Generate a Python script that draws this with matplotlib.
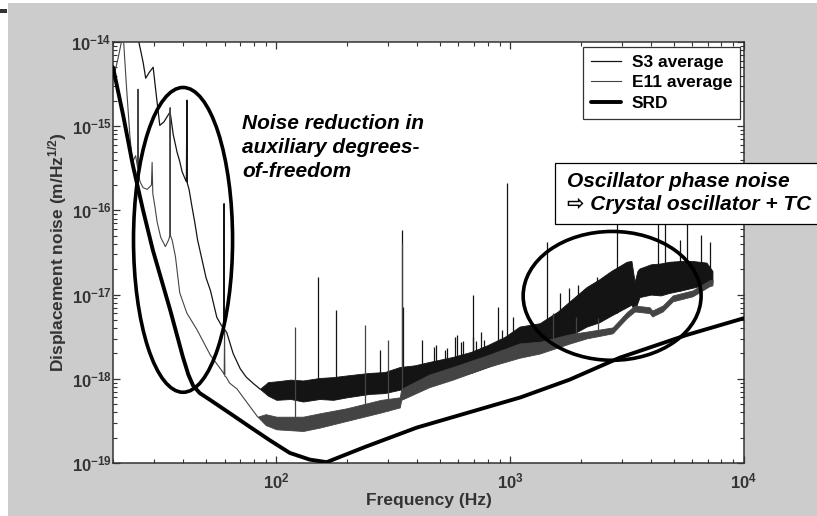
import numpy as np
import matplotlib
matplotlib.use("Agg")
import matplotlib.pyplot as plt
from matplotlib.patches import Ellipse, Rectangle
from matplotlib.ticker import LogLocator, FixedLocator, FuncFormatter, NullFormatter

plt.rcParams['font.family'] = ['Liberation Sans', 'DejaVu Sans']
plt.rcParams['font.weight'] = 'bold'
plt.rcParams['mathtext.fontset'] = 'custom'
plt.rcParams['mathtext.rm'] = 'Liberation Sans:bold'
plt.rcParams['mathtext.bf'] = 'Liberation Sans:bold'
plt.rcParams['mathtext.it'] = 'Liberation Sans:bold:italic'

# ---------------- data (amplitudes given as log10 of m/Hz^1/2) ----------------
# S3 average, low-frequency part (single trace)
s3_low_freq = [24.5, 25.8, 26.9, 27.6, 28.6, 29.7, 30.6, 31.7, 33.0, 35.1, 36.2, 37.6,
               38.6, 39.5, 40.6, 41.2, 41.4, 41.6, 42.3, 43.5, 44.8, 46.0, 48.1, 50.0,
               52.2, 55.6, 58.0, 59.5, 59.7, 59.9, 61.3, 65.3, 70.0, 74.3, 80.0, 85.0]
s3_low_exp = [-13.8, -14.0, -14.24, -14.43, -14.36, -14.30, -14.62, -14.99, -14.95, -14.83,
              -15.10, -15.31, -15.42, -15.54, -15.62, -15.66, -14.69, -15.68, -15.75, -15.95,
              -16.15, -16.35, -16.59, -16.80, -16.95, -17.27, -17.36, -17.40, -15.92, -17.41,
              -17.45, -17.70, -17.88, -17.98, -18.06, -18.12]

# E11 average, low-frequency part
e11_low_freq = [20.0, 21.0, 22.1, 22.8, 23.6, 24.2, 25.0, 25.5, 25.6, 25.7, 26.1, 26.9,
                28.0, 29.2, 29.4, 29.6, 30.2, 30.9, 32.0, 33.5, 34.6, 35.0, 35.1, 35.2,
                35.8, 37.0, 38.6, 41.4, 45.8, 52.2, 59.0, 59.8, 60.0, 60.2, 61.0, 63.0,
                67.8, 74.3, 83.0]
e11_low_exp = [-14.45, -14.2, -13.9, -14.5, -15.1, -15.43, -15.35, -15.5, -14.56, -15.55,
               -15.66, -15.73, -15.75, -15.7, -15.43, -15.8, -15.95, -16.14, -16.32, -16.43,
               -16.35, -16.3, -14.78, -16.3, -16.35, -16.55, -16.98, -17.22, -17.42, -17.72,
               -17.92, -17.95, -17.42, -17.97, -17.98, -18.05, -18.12, -18.27, -18.45]

# S3 average, broadband noise floor (lower / upper envelope)
s3_band_freq = [85, 92, 100, 115, 130, 153, 175, 200, 250, 290, 337, 390, 450, 568, 680,
                800, 950, 1096, 1337, 1600, 1850, 2122, 2400, 2700, 3150, 3300, 3406, 3500,
                3573, 4000, 4400, 4798, 5400, 6000, 6907, 7330]
s3_band_lo = [-18.12, -18.2, -18.25, -18.24, -18.27, -18.24, -18.25, -18.22, -18.18, -18.17,
              -18.13, -18.09, -18.05, -17.98, -17.93, -17.86, -17.78, -17.69, -17.64, -17.55,
              -17.47, -17.38, -17.33, -17.25, -17.15, -17.12, -17.20, -17.10, -17.03, -17.00,
              -17.01, -16.98, -16.95, -16.92, -16.88, -16.86]
s3_band_hi = [-18.12, -18.04, -18.03, -18.01, -18.02, -17.99, -17.98, -17.96, -17.93, -17.92,
              -17.86, -17.84, -17.80, -17.74, -17.68, -17.60, -17.50, -17.38, -17.34, -17.20,
              -17.05, -16.91, -16.82, -16.72, -16.61, -16.60, -16.85, -16.72, -16.69, -16.64,
              -16.63, -16.61, -16.60, -16.60, -16.62, -16.72]

# E11 average, broadband noise floor
e11_band_freq = [83, 90, 100, 130, 153, 200, 280, 337, 342, 450, 568, 800, 1096, 1337, 1800,
                 2122, 2740, 3150, 3406, 3946, 4050, 4490, 4960, 6030, 7120, 7330]
e11_band_lo = [-18.45, -18.55, -18.60, -18.62, -18.58, -18.50, -18.40, -18.34, -18.25, -18.10,
               -18.01, -17.86, -17.75, -17.70, -17.58, -17.52, -17.46, -17.28, -17.20, -17.22,
               -17.26, -17.20, -17.08, -17.02, -16.90, -16.89]
e11_band_hi = [-18.45, -18.42, -18.45, -18.45, -18.41, -18.35, -18.25, -18.22, -18.12, -17.95,
               -17.86, -17.72, -17.58, -17.56, -17.47, -17.44, -17.39, -17.21, -17.13, -17.15,
               -17.19, -17.13, -17.01, -16.95, -16.83, -16.82]

# narrow lines (frequency, peak)
s3_spike_freq = [150, 180, 277, 344, 347, 419, 474, 480, 527, 534, 580, 590, 615, 630, 690,
                 691, 715, 750, 770, 883, 920, 966, 1026, 1097, 1170, 1248, 1432, 1626, 1780,
                 1950, 2340, 2850, 4266, 4600, 5300, 5730, 6577, 7120]
s3_spike_exp = [-16.79, -17.18, -17.66, -16.23, -17.15, -17.54, -17.62, -17.60, -17.66, -17.64,
                -17.50, -17.48, -17.56, -17.55, -17.50, -17.00, -17.55, -17.45, -17.54, -17.15,
                -17.42, -15.67, -17.27, -17.38, -17.40, -17.34, -16.38, -16.98, -16.92, -16.89,
                -16.79, -15.90, -15.90, -15.90, -16.35, -15.90, -16.29, -16.37]
e11_spike_freq = [120, 239, 299, 345, 1520, 1920, 2370]
e11_spike_exp = [-17.38, -17.36, -17.54, -16.39, -17.22, -17.27, -17.28]

# Science requirements document sensitivity
srd_freq = [20.0, 22.1, 24.3, 26.9, 29.6, 35.1, 39.8, 42.0, 44.0, 47.0, 52.0, 63.3, 76.9,
            93.7, 114, 139, 164, 239, 398, 1109, 1795, 2937, 5680, 10000]
srd_exp = [-14.30, -14.87, -15.46, -16.00, -16.47, -17.18, -17.74, -17.95, -18.08, -18.17,
           -18.25, -18.41, -18.57, -18.73, -18.88, -18.96, -18.99, -18.81, -18.58, -18.22,
           -18.01, -17.75, -17.48, -17.28]

legend_labels = ['S3 average', 'E11 average', 'SRD']
x_label = 'Frequency (Hz)'
y_label = r'Displacement noise (m/Hz$^{\mathbf{1/2}}$)'
note_left = 'Noise reduction in\nauxiliary degrees-\nof-freedom'
note_right = 'Oscillator phase noise\n\u21e8 Crystal oscillator + TC'
x_major = [1e2, 1e3, 1e4]
y_major = [1e-19, 1e-18, 1e-17, 1e-16, 1e-15, 1e-14]

# ---------------- figure ----------------
S3_COL = '#141414'
E11_COL = '#444444'
TXT_COL = '#333333'

fig = plt.figure(figsize=(8.17, 5.16), dpi=100, facecolor='white')
fig.patches.append(Rectangle((8 / 817, 0), 1 - 8 / 817, 513 / 516, transform=fig.transFigure,
                             facecolor='#cccccc', edgecolor='none', zorder=-10))
fig.patches.append(Rectangle((0, 1 - 13 / 516), 7 / 817, 4 / 516, transform=fig.transFigure,
                             facecolor='#333333', edgecolor='none', zorder=-9))

ax = fig.add_axes([113 / 817, 53 / 516, 631 / 817, 421 / 516])
ax.set_facecolor('white')
ax.set_xscale('log')
ax.set_yscale('log')
ax.set_xlim(20, 1e4)
ax.set_ylim(1e-19, 1e-14)


def p10(a):
    return 10.0 ** np.asarray(a, dtype=float)


# S3
s3_line, = ax.plot(s3_low_freq, p10(s3_low_exp), color=S3_COL, lw=0.9, zorder=2,
                   label=legend_labels[0])
ax.fill_between(s3_band_freq, p10(s3_band_lo), p10(s3_band_hi), color=S3_COL, lw=0.6,
                edgecolor=S3_COL, zorder=2)
s3_base = np.interp(np.log10(s3_spike_freq), np.log10(s3_band_freq), s3_band_lo)
ax.vlines(s3_spike_freq, p10(s3_base), p10(s3_spike_exp), color=S3_COL, lw=0.9, zorder=2)

# E11
e11_line, = ax.plot(e11_low_freq, p10(e11_low_exp), color=E11_COL, lw=0.8, zorder=3,
                    label=legend_labels[1])
ax.fill_between(e11_band_freq, p10(e11_band_lo), p10(e11_band_hi), color=E11_COL, lw=0.6,
                edgecolor=E11_COL, zorder=3)
e11_base = np.interp(np.log10(e11_spike_freq), np.log10(e11_band_freq), e11_band_lo)
ax.vlines(e11_spike_freq, p10(e11_base), p10(e11_spike_exp), color=E11_COL, lw=0.9, zorder=3)

# SRD
srd_line, = ax.plot(srd_freq, p10(srd_exp), color='black', lw=2.8, zorder=4,
                    solid_capstyle='round', solid_joinstyle='round', label=legend_labels[2])

# annotation ellipses
ax.add_patch(Ellipse((0.111, 0.530), 0.157, 0.724, transform=ax.transAxes, fill=False,
                     lw=2.6, edgecolor='black', zorder=5))
ax.add_patch(Ellipse((0.791, 0.397), 0.282, 0.306, transform=ax.transAxes, fill=False,
                     lw=2.6, edgecolor='black', zorder=5))

# axes styling
for sp in ax.spines.values():
    sp.set_color(TXT_COL)
    sp.set_linewidth(1.1)
ax.xaxis.set_major_locator(FixedLocator(x_major))
ax.yaxis.set_major_locator(FixedLocator(y_major))
ax.xaxis.set_minor_locator(LogLocator(base=10, subs=np.arange(2, 10), numticks=20))
ax.yaxis.set_minor_locator(LogLocator(base=10, subs=np.arange(2, 10), numticks=20))
ax.xaxis.set_minor_formatter(NullFormatter())
ax.yaxis.set_minor_formatter(NullFormatter())
fmt = FuncFormatter(lambda v, p: r'$\mathbf{10^{%d}}$' % int(round(np.log10(v))))
ax.xaxis.set_major_formatter(fmt)
ax.yaxis.set_major_formatter(fmt)
ax.tick_params(which='both', direction='in', top=True, right=True, colors=TXT_COL,
               labelcolor=TXT_COL, labelsize=12)
ax.tick_params(which='major', length=5, width=0.9)
ax.tick_params(which='minor', length=3, width=0.8)
ax.tick_params(axis='x', which='major', pad=6)
ax.tick_params(axis='y', which='major', pad=1)

ax.set_xlabel(x_label, fontsize=12.5, fontweight='bold', color=TXT_COL)
ax.xaxis.set_label_coords(0.5, -0.072)
ax.set_ylabel(y_label, fontsize=12.5, fontweight='bold', color=TXT_COL)
ax.yaxis.set_label_coords(-0.070, 0.5)

leg = ax.legend(handles=[s3_line, e11_line, srd_line], loc='upper right',
                bbox_to_anchor=(0.9937, 0.988), borderaxespad=0,
                prop={'weight': 'bold', 'size': 12.5}, frameon=True, fancybox=False,
                handlelength=1.75, handletextpad=0.6, labelspacing=0.3, borderpad=0.45)
leg.get_frame().set_edgecolor('black')
leg.get_frame().set_linewidth(0.9)
leg.set_zorder(6)

# text notes
fig.text(242 / 817, 1 - 114 / 516, note_left, ha='left', va='top', fontsize=15,
         fontweight='bold', fontstyle='italic', color='black', linespacing=1.32, zorder=7)
fig.patches.append(Rectangle((555 / 817, 1 - 224 / 516), 0.4, 61 / 516,
                             transform=fig.transFigure, facecolor='white',
                             edgecolor='black', lw=0.9, zorder=6))
fig.text(567 / 817, 1 - 172 / 516, note_right, ha='left', va='top', fontsize=15,
         fontweight='bold', fontstyle='italic', color='black', linespacing=1.25, zorder=7,
         family=['Liberation Sans', 'DejaVu Sans'])

fig.savefig('out.png', dpi=100)
